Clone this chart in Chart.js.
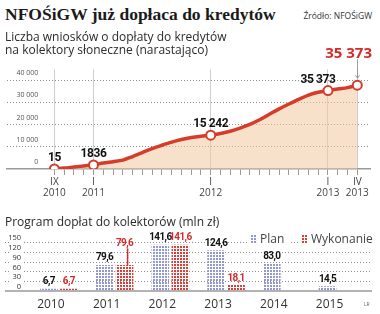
<!DOCTYPE html>
<html><head><meta charset="utf-8">
<script src="https://cdn.jsdelivr.net/npm/chart.js@4.4.1/dist/chart.umd.min.js"></script>
<style>
html,body{margin:0;padding:0;background:#fff;}
#wrap{position:relative;width:380px;height:314px;overflow:hidden;background:#fff;font-family:'Open Sans',sans-serif;}
.a{position:absolute;white-space:nowrap;}
canvas{position:absolute;left:0;}
.sw{position:absolute;width:6px;height:8px;}
.sw.p{background:linear-gradient(90deg,rgba(255,255,255,0) 2px,#fff 2px) 0 0/3px 3px,linear-gradient(#9297cf 2px,#fff 2px) 0 0/3px 3px;}
.sw.w{background:linear-gradient(90deg,rgba(255,255,255,0) 2px,#fff 2px) 0 0/3px 3px,linear-gradient(#d8403a 2px,#fff 2px) 0 0/3px 3px;}
</style></head>
<body>
<div id="wrap">
<canvas id="top" width="380" height="145" style="top:55px"></canvas>
<canvas id="bot" width="380" height="89" style="top:225px"></canvas>
<div class="a" style="left:5px;top:4px;font:bold 17.5px/21px 'Liberation Serif',serif;color:#1a1a1a;">NFOŚiGW już dopłaca do kredytów</div>
<div class="a" style="right:8px;top:11px;font:8.5px/10px 'Open Sans',sans-serif;color:#333;">Źródło: NFOŚiGW</div>
<div class="a" style="left:5px;top:30px;font:12px/13px 'Open Sans',sans-serif;color:#2a2a2a;">Liczba wniosków o dopłaty do kredytów<br>na kolektory słoneczne (narastająco)</div>
<div class="a" id="headline" style="right:8px;top:43px;font:bold 15px/18px 'Open Sans',sans-serif;color:#d42a2a;"></div>
<div class="a" style="left:5px;top:215px;font:12px/14px 'Open Sans',sans-serif;color:#2a2a2a;">Program dopłat do kolektorów (mln zł)</div>
<div class="a" style="left:249px;top:232px;width:40px;height:14px;background:#fff;"></div>
<div class="sw p" style="left:251px;top:235px;"></div>
<div class="a" id="lg1" style="left:260px;top:232px;font:12px/14px 'Open Sans',sans-serif;color:#444;"></div>
<div class="a" style="left:300px;top:232px;width:76px;height:14px;background:#fff;"></div>
<div class="sw w" style="left:302px;top:235px;"></div>
<div class="a" id="lg2" style="left:311px;top:232px;font:12px/14px 'Open Sans',sans-serif;color:#444;"></div>
<div class="a" style="left:364px;top:301px;font:5px/6px 'Open Sans',sans-serif;color:#666;">LR</div>
</div>
<script>
// ---------- top chart data ----------
const months = [0,1,2,3,4,5,6,7,8,9,10,11,12,13,14,15,16,17,18,19,20,21,22,23,24,25,26,27,28,29,30,31];
const applications = [15,400,900,1400,1836,2700,3300,4000,5600,7400,9200,10700,12100,13300,14200,14800,15242,16000,17000,18400,20100,22200,24700,27100,29300,31400,33300,34600,35373,36100,36700,37800];
const tickMonths = [0,4,16,28,31];
const tickLabels = [['IX','2010'],['I','2011'],['I','2012'],['I','2013'],['IV','2013']];
const pointLabels = ['15','1836','15 242','35 373',''];
const yTicksTop = [0,10000,20000,30000,40000];
const headline = '35 373';

// ---------- bottom chart data ----------
const years = ['2010','2011','2012','2013','2014','2015'];
const plan = [6.7,79.6,141.6,124.6,83.0,14.5];
const wykonanie = [6.7,79.6,141.6,18.1,null,null];
const yTicksBottom = [0,30,60,90,120,150];
const seriesNames = ['Plan','Wykonanie'];

document.getElementById('headline').textContent = headline;
document.getElementById('lg1').textContent = seriesNames[0];
document.getElementById('lg2').textContent = seriesNames[1];

Chart.defaults.font.family = "'Open Sans', sans-serif";

const RED = '#d63c2a';

const topPlugin = {
  id: 'topLabels',
  afterDatasetsDraw(chart) {
    const ctx = chart.ctx;
    const meta = chart.getDatasetMeta(0);
    const dx = [0,0,0,-10,0];
    ctx.save();
    ctx.font = "bold 12px Roboto, sans-serif";
    if ('letterSpacing' in ctx) ctx.letterSpacing = '-0.4px';
    ctx.fillStyle = '#111'; ctx.textAlign = 'center'; ctx.textBaseline = 'middle';
    tickMonths.forEach((m, k) => {
      const el = meta.data[months.indexOf(m)];
      if (pointLabels[k]) ctx.fillText(pointLabels[k], el.x + dx[k], el.y - 11);
    });
    // arrow from headline to last point
    const last = meta.data[months.indexOf(tickMonths[tickMonths.length - 1])];
    ctx.strokeStyle = '#888'; ctx.lineWidth = 0.8;
    const x0 = Math.round(last.x) + 0.5, yb = last.y - 7;
    ctx.beginPath(); ctx.moveTo(x0, 4); ctx.lineTo(x0, yb); ctx.stroke();
    ctx.beginPath(); ctx.moveTo(x0 - 2, yb - 3); ctx.lineTo(x0, yb); ctx.lineTo(x0 + 2, yb - 3); ctx.stroke();
    ctx.restore();
  }
};

new Chart(document.getElementById('top'), {
  type: 'line',
  data: {
    datasets: [{
      data: months.map((m, i) => ({x: m, y: applications[i]})),
      borderColor: RED,
      borderWidth: 3.5,
      backgroundColor: 'rgba(240,200,160,0.55)',
      fill: 'origin',
      tension: 0.4,
      cubicInterpolationMode: 'monotone',
      pointRadius: months.map(m => tickMonths.includes(m) ? 4.5 : 0),
      pointBackgroundColor: '#fff',
      pointBorderColor: RED,
      pointBorderWidth: 2
    }]
  },
  options: {
    responsive: false, animation: false, devicePixelRatio: 1,
    layout: {padding: {left: 5, right: 10, top: 7, bottom: 1}},
    plugins: {legend: {display: false}, tooltip: {enabled: false}},
    scales: {
      x: {
        type: 'linear', min: -4.9, max: 32.3,
        afterBuildTicks: s => { s.ticks = months.map(v => ({value: v})); },
        afterFit: s => { s.height = 30; },
        ticks: {
          autoSkip: false, maxRotation: 0, minRotation: 0, padding: 2,
          font: {size: 10, lineHeight: 1.1}, color: '#444',
          callback: v => { const i = tickMonths.indexOf(v); return i < 0 ? '' : tickLabels[i]; }
        },
        grid: {
          color: c => (c.tick && tickMonths.includes(c.tick.value)) ? '#cfcfcf' : 'rgba(0,0,0,0)',
          tickColor: '#999', tickLength: 6, lineWidth: 1
        },
        border: {display: true, color: '#999', width: 1.5}
      },
      y: {
        min: 0, max: 45000,
        afterBuildTicks: s => { s.ticks = yTicksTop.map(v => ({value: v})); },
        afterFit: s => { s.width = 0; },
        ticks: {
          autoSkip: false,
          mirror: true, crossAlign: 'far', padding: 10, labelOffset: -7,
          font: {size: 7}, color: '#555',
          callback: v => v === 0 ? '0' : (v / 1000) + ' 000'
        },
        grid: {
          drawTicks: false, lineWidth: 1,
          color: c => (c.tick && c.tick.value === 0) ? 'rgba(0,0,0,0)' : '#8f8f8f'
        },
        border: {display: false, dash: [1, 2]}
      }
    }
  },
  plugins: [topPlugin]
});

// ---------- bottom chart ----------
function makePattern(color) {
  const c = document.createElement('canvas');
  c.width = 3; c.height = 3;
  const g = c.getContext('2d');
  g.fillStyle = color; g.fillRect(0, 0, 2, 2);
  return document.getElementById('bot').getContext('2d').createPattern(c, 'repeat');
}

const botPlugin = {
  id: 'botExtras',
  beforeDraw(chart) {
    const ctx = chart.ctx, y = chart.scales.y;
    ctx.save();
    ctx.strokeStyle = '#8f8f8f'; ctx.lineWidth = 1; ctx.setLineDash([1, 2]);
    y.ticks.forEach(t => {
      if (t.value === 0) return;
      const py = Math.round(y.getPixelForValue(t.value)) + 0.5;
      ctx.beginPath(); ctx.moveTo(5, py); ctx.lineTo(9, py); ctx.stroke();
      ctx.beginPath(); ctx.moveTo(24, py); ctx.lineTo(372, py); ctx.stroke();
    });
    ctx.setLineDash([]);
    ctx.strokeStyle = '#999'; ctx.lineWidth = 1.5;
    const py0 = y.getPixelForValue(0);
    ctx.beginPath(); ctx.moveTo(5, py0); ctx.lineTo(372, py0); ctx.stroke();
    ctx.restore();
  },
  afterDatasetsDraw(chart) {
    const ctx = chart.ctx, y = chart.scales.y;
    const colors = ['#111', '#d42a2a'];
    const callout = {dataset: 1, index: 1, level: 146};
    ctx.save();
    ctx.font = "bold 10px Roboto, sans-serif";
    if ('letterSpacing' in ctx) ctx.letterSpacing = '-0.6px';
    ctx.textAlign = 'center'; ctx.textBaseline = 'middle';
    chart.data.datasets.forEach((ds, d) => {
      chart.getDatasetMeta(d).data.forEach((bar, i) => {
        const v = ds.data[i];
        if (v === null || v === undefined) return;
        const txt = v.toFixed(1).replace('.', ',');
        ctx.fillStyle = colors[d];
        if (d === callout.dataset && i === callout.index) {
          const ly = y.getPixelForValue(callout.level);
          ctx.fillText(txt, bar.x, ly);
          ctx.strokeStyle = colors[d]; ctx.lineWidth = 1.5;
          ctx.beginPath(); ctx.moveTo(bar.x + 3, ly + 5); ctx.lineTo(bar.x + 3, bar.y); ctx.stroke();
        } else {
          ctx.fillText(txt, bar.x, bar.y - 7);
        }
      });
    });
    ctx.restore();
  }
};

new Chart(document.getElementById('bot'), {
  type: 'bar',
  data: {
    labels: years,
    datasets: [
      {label: seriesNames[0], data: plan, backgroundColor: makePattern('#9297cf'), borderWidth: 0,
       categoryPercentage: 0.7175, barPercentage: 0.88},
      {label: seriesNames[1], data: wykonanie, backgroundColor: makePattern('#d8403a'), borderWidth: 0,
       categoryPercentage: 0.7175, barPercentage: 0.88}
    ]
  },
  options: {
    responsive: false, animation: false, devicePixelRatio: 1,
    layout: {padding: {left: 0, right: 14.6, top: 17, bottom: 0}},
    plugins: {legend: {display: false}, tooltip: {enabled: false}},
    scales: {
      x: {
        afterFit: s => { s.height = 23; },
        grid: {display: false, drawTicks: false},
        border: {display: false},
        ticks: {padding: 6, labelOffset: -8, font: {size: 12}, color: '#333', maxRotation: 0, autoSkip: false}
      },
      y: {
        min: 0, max: 150,
        afterBuildTicks: s => { s.ticks = yTicksBottom.map(v => ({value: v})); },
        afterFit: s => { s.width = 31; },
        grid: {display: false, drawTicks: false},
        border: {display: false},
        ticks: {
          autoSkip: false,
          padding: 10, labelOffset: -4, font: {size: 7.5}, color: '#333'
        }
      }
    }
  },
  plugins: [botPlugin]
});
</script>
</body></html>
